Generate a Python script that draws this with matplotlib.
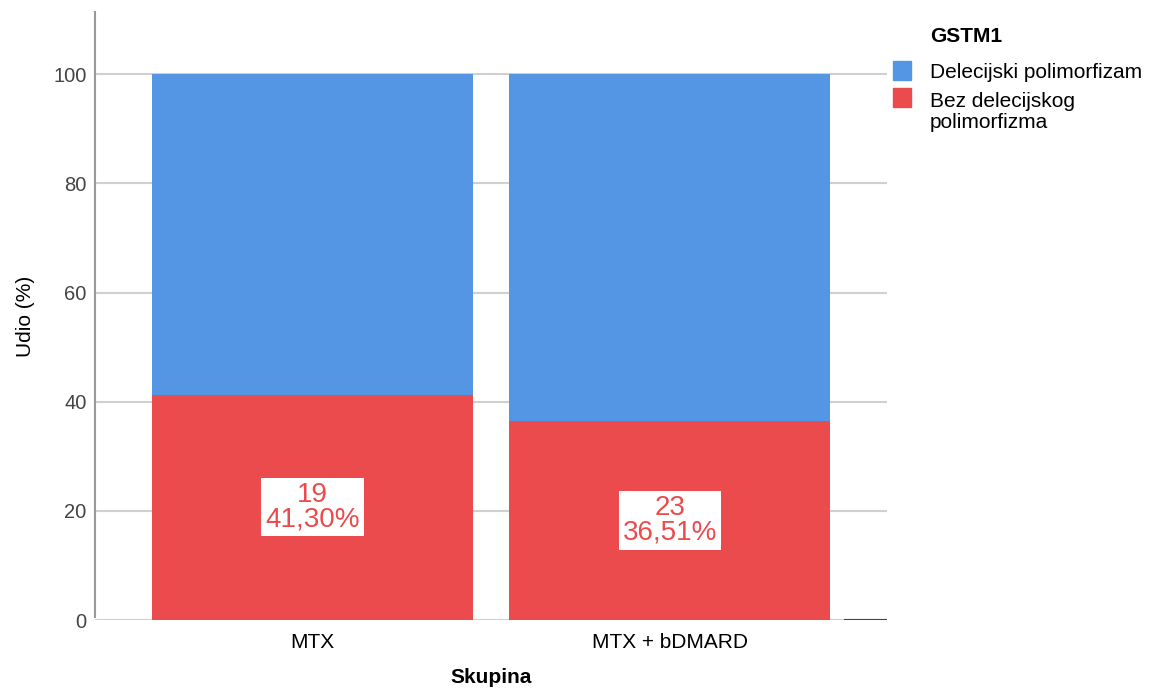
import matplotlib.pyplot as plt
import matplotlib.patches as mpatches

plt.rcParams['font.family'] = ['Liberation Sans', 'DejaVu Sans']

# podaci
groups = ['MTX', 'MTX + bDMARD']
counts_bez = [19, 23]
pct_bez = [41.30, 36.51]
pct_del = [100 - p for p in pct_bez]
labels = ['Delecijski polimorfizam', 'Bez delecijskog\npolimorfizma']
colors = ['#5596E4', '#EC4B4D']

W, H = 1151, 689
fig = plt.figure(figsize=(W / 100, H / 100), dpi=100)
ax = fig.add_axes([0.0825, 0.1001, 0.6881, 0.8825])

x = range(len(groups))
ax.bar(x, pct_bez, width=0.898, color=colors[1], zorder=2)
ax.bar(x, pct_del, width=0.898, bottom=pct_bez, color=colors[0], zorder=2)

# oznake na crvenim stupcima
for i in x:
    ax.text(i, pct_bez[i] / 2, f'{counts_bez[i]}\n{pct_bez[i]:.2f}%'.replace('.', ','),
            ha='center', va='center', fontsize=20, color=colors[1],
            linespacing=0.9, zorder=3,
            bbox=dict(boxstyle='square,pad=0.15', fc='white', ec='none'))

ax.set_xlim(-0.608, 1.607)
ax.set_ylim(0, 111.4)
ax.set_yticks([0, 20, 40, 60, 80, 100])
ax.yaxis.grid(True, color='#d0d0d0', linewidth=1.5, zorder=0)
ax.set_axisbelow(True)
ax.tick_params(axis='y', length=0, labelsize=14.5, labelcolor='#444444', pad=6)
ax.tick_params(axis='x', length=0, labelsize=15, pad=9)
ax.set_xticks(list(x))
ax.set_xticklabels(groups)

for s in ['top', 'right', 'bottom']:
    ax.spines[s].set_visible(False)
ax.spines['left'].set_color('#999999')
ax.spines['left'].set_linewidth(1.5)
ax.spines['left'].set_bounds(0.5, 111.4)
ax.axhline(0, xmin=0.947, xmax=1.0, color='#444444', linewidth=1.5)

ax.set_ylabel('Udio (%)', fontsize=15, labelpad=13)
ax.set_xlabel('Skupina', fontsize=15, fontweight='bold', labelpad=12)

# legenda (ručno, poravnato kao u SPSS-u)
fig.text(930 / W, 1 - 37 / H, 'GSTM1', fontsize=15, fontweight='bold',
         ha='left', va='center')
sq_top = [61, 88]
txt_y = [73, 92]
for c, l, st, ty in zip(colors, labels, sq_top, txt_y):
    fig.patches.append(mpatches.Rectangle((893 / W, 1 - (st + 19) / H), 18 / W, 19 / H,
                                          color=c, transform=fig.transFigure))
    if '\n' in l:
        fig.text(930 / W, 1 - ty / H, l, fontsize=15, ha='left', va='top',
                 linespacing=1.12)
    else:
        fig.text(930 / W, 1 - ty / H, l, fontsize=15, ha='left', va='center')

fig.savefig('out.png', dpi=100)
